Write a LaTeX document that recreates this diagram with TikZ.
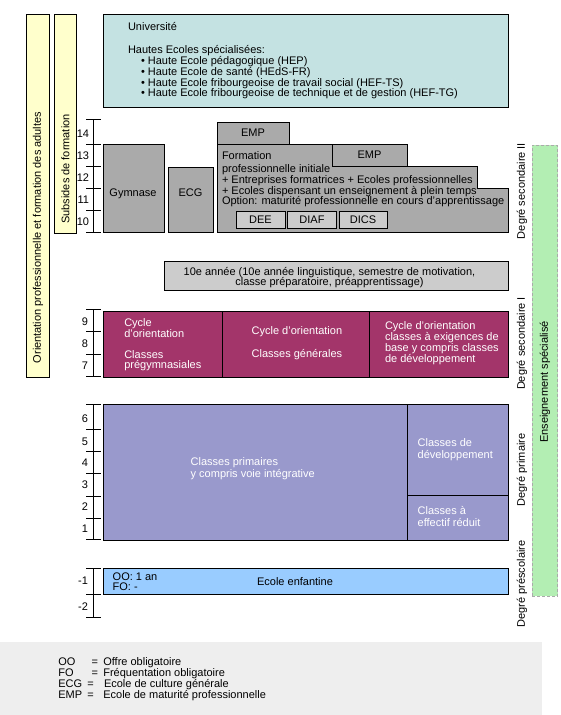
\documentclass[tikz,border=0pt]{standalone}
\usepackage{fontspec}
\setmainfont{Liberation Sans}
\definecolor{cteal}{RGB}{196,226,226}
\definecolor{cyellow}{RGB}{255,255,204}
\definecolor{cgray}{RGB}{170,170,170}
\definecolor{clgray}{RGB}{204,204,204}
\definecolor{cmag}{RGB}{163,53,106}
\definecolor{cperi}{RGB}{153,153,204}
\definecolor{clblue}{RGB}{153,204,255}
\definecolor{cgreen}{RGB}{179,238,179}
\definecolor{clegend}{RGB}{238,238,238}
\definecolor{cdash}{RGB}{170,170,170}
\begin{document}
\begin{tikzpicture}[x=1pt,y=-1pt,
  font=\fontsize{11}{11}\selectfont,
  box/.style={draw=black, line width=1pt, rectangle, inner sep=0pt, outer sep=0pt},
  txt/.style={inner sep=0pt, outer sep=0pt, anchor=base west},
  wtxt/.style={txt, text=white},
  ctxt/.style={inner sep=0pt, outer sep=0pt, anchor=base},
  num/.style={inner sep=0pt, outer sep=0pt, anchor=base east},
  vtxt/.style={inner sep=0pt, outer sep=0pt, rotate=90, anchor=center},
  rule/.style={line width=1pt, line cap=rect},
]
\useasboundingbox (0,0) rectangle (560,715);
% legend band
\fill[clegend] (0,642) rectangle (542,715);

% yellow bars
\node[box, fill=cyellow, minimum width=23pt, minimum height=363pt] (ybar1) at (37.5,195.5) {};
\node[box, fill=cyellow, minimum width=22pt, minimum height=219pt] (ybar2) at (65,123.5) {};
\node[vtxt] (ylab1) at (38,237.5) {Orientation professionnelle et formation des adultes};
\node[vtxt] (ylab2) at (65.5,169) {Subsides de formation};

% green bar
\node[draw=cdash, dashed, dash pattern=on 3pt off 2pt, line width=1pt, fill=cgreen, inner sep=0pt, minimum width=25.5pt, minimum height=451pt] (gbar) at (544.75,370.5) {};
\node[vtxt] (glab) at (545,382) {Enseignement spécialisé};

% right labels
\node[vtxt] (d2) at (522,191) {Degré secondaire II};
\node[vtxt] (d1) at (522,343.5) {Degré secondaire I};
\node[vtxt] (dp) at (522,470) {Degré primaire};
\node[vtxt] (dps) at (522,584) {Degré préscolaire};

% teal box
\node[box, fill=cteal, minimum width=405pt, minimum height=93pt] (teal) at (305.5,60.5) {};
\node[txt] (t1) at (128,30) {Université};
\node[txt] (t2) at (128,53.3) {Hautes Ecoles spécialisées:};
\node[txt] (t3) at (141,64.7) {• Haute Ecole pédagogique (HEP)};
\node[txt] (t4) at (141,75.5) {• Haute Ecole de santé (HEdS-FR)};
\node[txt] (t5) at (141,86) {• Haute Ecole fribourgeoise de travail social (HEF-TS)};
\node[txt] (t6) at (141,96.7) {• Haute Ecole fribourgeoise de technique et de gestion (HEF-TG)};

% ruler secondaire II
\draw[rule] (93,119) -- (93,232);
\foreach \y in {119,144,166,188,210,232} \draw[rule] (86,\y) -- (100,\y);
\node[num] (n14) at (89,137) {14};
\node[num] (n13) at (89,159) {13};
\node[num] (n12) at (89,181) {12};
\node[num] (n11) at (89,203) {11};
\node[num] (n10) at (89,225) {10};

% gymnase, ECG
\node[box, fill=cgray, minimum width=61pt, minimum height=88pt] (gym) at (133.5,188) {};
\node[ctxt] (gymt) at (133,196) {Gymnase};
\node[box, fill=cgray, minimum width=44.5pt, minimum height=65pt] (ecg) at (190.75,199.5) {};
\node[ctxt] (ecgt) at (190.5,196) {ECG};

% formation professionnelle
\draw[line width=1pt, fill=cgray] (217,144) -- (332,144) -- (332,166) -- (477,166) -- (477,188) -- (508,188) -- (508,232) -- (217,232) -- cycle;
\node[box, fill=cgray, minimum width=72pt, minimum height=22pt] (emp1) at (253,133) {EMP};
\node[box, fill=cgray, minimum width=75pt, minimum height=22pt] (emp2) at (369.5,155) {EMP};
\node[txt] (f1) at (222,159) {Formation};
\node[txt] (f2) at (222,172) {professionnelle initiale};
\node[txt] (f3) at (222,183) {+ Entreprises formatrices + Ecoles professionnelles};
\node[txt] (f4) at (222,194) {+ Ecoles dispensant un enseignement à plein temps};
\node[txt] (f5) at (222,204.5) {Option: maturité professionnelle en cours d’apprentissage};
\node[box, fill=clgray, minimum width=49pt, minimum height=17pt] (dee) at (260.5,219.5) {DEE};
\node[box, fill=clgray, minimum width=49pt, minimum height=17pt] (diaf) at (312,219.5) {DIAF};
\node[box, fill=clgray, minimum width=48pt, minimum height=17pt] (dics) at (363,219.5) {DICS};

% 10e annee
\node[box, fill=clgray, minimum width=344pt, minimum height=29pt] (tenth) at (336,275.5) {};
\node[ctxt] (te1) at (329.5,275) {10e année (10e année linguistique, semestre de motivation,};
\node[ctxt] (te2) at (329.5,285) {classe préparatoire, préapprentissage)};

% ruler secondaire I
\draw[rule] (93,309) -- (93,376);
\foreach \y in {309,331,354,376} \draw[rule] (86,\y) -- (100,\y);
\node[num] (n9) at (88,325) {9};
\node[num] (n8) at (88,347.5) {8};
\node[num] (n7) at (88,369) {7};

% cycle d'orientation
\node[box, fill=cmag, minimum width=405pt, minimum height=66pt] (co) at (305.5,344) {};
\draw[line width=1pt] (222,311) -- (222,377);
\draw[line width=1pt] (369.5,311) -- (369.5,377);
\node[wtxt] (c11) at (124.3,326.5) {Cycle};
\node[wtxt] (c12) at (124.3,337.3) {d’orientation};
\node[wtxt] (c13) at (124.3,358.5) {Classes};
\node[wtxt] (c14) at (124.3,368.7) {prégymnasiales};
\node[wtxt] (c21) at (251.7,334.5) {Cycle d’orientation};
\node[wtxt] (c22) at (251.7,357.5) {Classes générales};
\node[wtxt] (c31) at (385,329) {Cycle d’orientation};
\node[wtxt] (c32) at (385,340.3) {classes à exigences de};
\node[wtxt] (c33) at (385,351.7) {base y compris classes};
\node[wtxt] (c34) at (385,362.7) {de développement};

% ruler primaire
\draw[rule] (93,404.7) -- (93,539.3);
\foreach \y in {404.7,429.3,451.3,473.3,496.3,518.3,539.3} \draw[rule] (86,\y) -- (100,\y);
\node[num] (n6) at (88,422.7) {6};
\node[num] (n5) at (88,445) {5};
\node[num] (n4) at (88,466) {4};
\node[num] (n3) at (88,488.7) {3};
\node[num] (n2) at (88,510.7) {2};
\node[num] (n1) at (88,532) {1};

% primaire
\node[box, fill=cperi, minimum width=405pt, minimum height=136pt] (prim) at (305.5,472.3) {};
\draw[line width=1pt] (407.7,404.3) -- (407.7,540.3);
\draw[line width=1pt] (407.7,495.3) -- (508,495.3);
\node[wtxt] (p1) at (190.7,465.5) {Classes primaires};
\node[wtxt] (p2) at (190.7,477) {y compris voie intégrative};
\node[wtxt] (p3) at (417.7,446.5) {Classes de};
\node[wtxt] (p4) at (417.7,458) {développement};
\node[wtxt] (p5) at (417.7,514) {Classes à};
\node[wtxt] (p6) at (417.7,526) {effectif réduit};

% ruler prescolaire
\draw[rule] (93,568) -- (93,617.5);
\foreach \y in {568,594,617.5} \draw[rule] (86,\y) -- (100,\y);
\node[num] (nm1) at (88,584.7) {-1};
\node[num] (nm2) at (88,610) {-2};

% ecole enfantine
\node[box, fill=clblue, minimum width=405pt, minimum height=26pt] (enf) at (305.5,581) {};
\node[txt] (e1) at (112.7,580.5) {OO: 1 an};
\node[txt] (e2) at (112.7,590) {FO: -};
\node[ctxt] (e3) at (295,585) {Ecole enfantine};

% legend
\node[txt] (l1a) at (58.3,665) {OO};
\node[txt] (l1b) at (91.7,665) {=};
\node[txt] (l1c) at (103.3,665) {Offre obligatoire};
\node[txt] (l2a) at (58.3,676.3) {FO};
\node[txt] (l2b) at (91.7,676.3) {=};
\node[txt] (l2c) at (103.3,676.3) {Fréquentation obligatoire};
\node[txt] (l3a) at (58.3,687.7) {ECG};
\node[txt] (l3b) at (87.3,687.7) {=};
\node[txt] (l3c) at (104,687.7) {Ecole de culture générale};
\node[txt] (l4a) at (58.3,698.7) {EMP};
\node[txt] (l4b) at (87.3,698.7) {=};
\node[txt] (l4c) at (103.3,698.7) {Ecole de maturité professionnelle};
\end{tikzpicture}
\end{document}
